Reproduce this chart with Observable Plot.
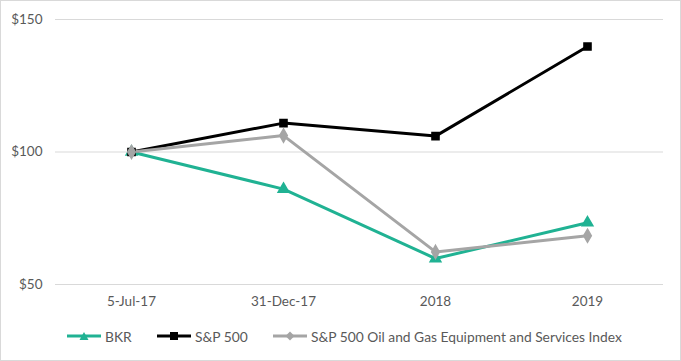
<!DOCTYPE html>
<html>
<head>
<meta charset="utf-8">
<script src="https://cdn.jsdelivr.net/npm/d3@7"></script>
<script src="https://cdn.jsdelivr.net/npm/@observablehq/plot@0.6"></script>
<style>
  html, body { margin: 0; padding: 0; background: #fff; }
  #frame { width: 681px; height: 361px; box-sizing: border-box; border: 1px solid #d9d9d9; position: relative; font-family: Lato, "Open Sans", sans-serif; }
  #chart svg { display: block; }
  #legend { position: absolute; left: 0; top: 325px; width: 100%; height: 20px; font-size: 13.8px; color: #595959; }
  .item { position: absolute; top: 0; display: flex; align-items: center; height: 20px; }
  .item svg { display: block; margin-right: 3px; }
</style>
</head>
<body>
<div id="frame">
  <div id="chart"></div>
  <div id="legend"></div>
</div>
<script>
const categories = ["5-Jul-17", "31-Dec-17", "2018", "2019"];
const seriesNames = ["BKR", "S&P 500", "S&P 500 Oil and Gas Equipment and Services Index"];
const bkr = [100, 86, 59.8, 73.3];
const sp500 = [100, 110.9, 106, 139.8];
const oilGas = [100, 106.2, 62.3, 68.4];
const yTicks = [50, 100, 150];
const colors = ["#20b293", "#000000", "#a5a5a5"];
const symbols = ["triangle", "square", "diamond"];

const allSeries = [bkr, sp500, oilGas];
const data = [];
allSeries.forEach((vals, si) => {
  vals.forEach((v, i) => data.push({series: seriesNames[si], date: categories[i], value: v}));
});

const chart = Plot.plot({
  width: 679,
  height: 318,
  marginLeft: 54,
  marginRight: 17,
  marginTop: 18,
  marginBottom: 35,
  style: {fontFamily: "Lato, 'Open Sans', sans-serif", fontSize: "13px", color: "#595959", background: "#fff"},
  x: {type: "point", domain: categories, padding: 0.5, label: null},
  y: {domain: [50, 150], ticks: yTicks, label: null},
  color: {domain: seriesNames, range: colors},
  symbol: {domain: seriesNames, range: symbols},
  marks: [
    Plot.gridY(yTicks, {stroke: "#d9d9d9", strokeOpacity: 1, strokeWidth: 1}),
    Plot.axisY(yTicks, {tickSize: 0, tickPadding: 13, tickFormat: d => "$" + d, fontSize: 13.5, fill: "#595959"}),
    Plot.axisX({tickSize: 0, tickPadding: 12, fontSize: 13.5, fill: "#595959"}),
    Plot.line(data, {x: "date", y: "value", z: "series", stroke: "series", strokeWidth: 3, strokeLinejoin: "round"}),
    Plot.dot(data, {x: "date", y: "value", symbol: "series", fill: "series", stroke: "series", r: 4})
  ]
});
document.getElementById("chart").appendChild(chart);

// legend
const legend = document.getElementById("legend");
const lefts = [66, 156, 272];
const shapes = [
  '<path d="M17,4 L21.5,12 L12.5,12 Z" fill="COL"/>',
  '<rect x="13" y="4" width="8" height="8" fill="COL"/>',
  '<path d="M17,3.5 L21.5,8 L17,12.5 L12.5,8 Z" fill="COL"/>'
];
seriesNames.forEach((name, i) => {
  const div = document.createElement("div");
  div.className = "item";
  div.style.left = lefts[i] + "px";
  div.innerHTML = `<svg width="35" height="16"><line x1="0" y1="8" x2="34" y2="8" stroke="${colors[i]}" stroke-width="3"/>${shapes[i].replace("COL", colors[i])}</svg><span>${name}</span>`;
  legend.appendChild(div);
});
</script>
</body>
</html>
